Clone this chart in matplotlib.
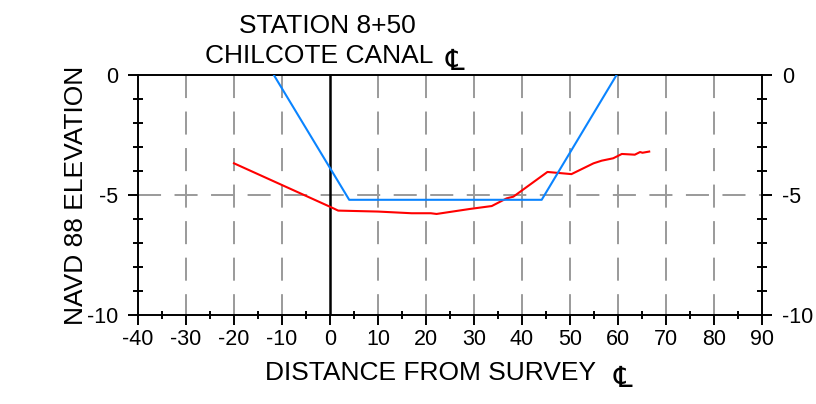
import matplotlib
matplotlib.use('Agg')
import matplotlib.pyplot as plt

plt.rcParams['font.family'] = ['Liberation Sans', 'DejaVu Sans']
plt.rcParams['lines.scale_dashes'] = False

W, H, DPI = 816, 404, 100

# ---- data ----
x_ticks = [-40, -30, -20, -10, 0, 10, 20, 30, 40, 50, 60, 70, 80, 90]
x_minor = [-35, -25, -15, -5, 5, 15, 25, 35, 45, 55, 65, 75, 85]
y_ticks = [0, -5, -10]
y_minor = [-1, -2, -3, -4, -6, -7, -8, -9]
grid_x = [-30, -20, -10, 10, 20, 30, 40, 50, 60, 70, 80]
grid_y = [-5]

design_x = [-11.7, 4.0, 44.1, 59.7]
design_y = [0.0, -5.2, -5.2, 0.0]

ground_x = [-20.0, 0.0, 1.7, 10.0, 17.0, 21.0, 22.2, 29.2, 33.7, 36.8, 38.2,
            45.3, 50.3, 54.9, 56.6, 59.0, 60.8, 63.5, 64.6, 65.1, 66.5]
ground_y = [-3.68, -5.49, -5.65, -5.69, -5.76, -5.76, -5.79, -5.58, -5.46, -5.14, -5.07,
            -4.04, -4.13, -3.68, -3.57, -3.47, -3.29, -3.32, -3.21, -3.24, -3.19]

title_1 = "STATION 8+50"
title_2 = "CHILCOTE CANAL"
x_label = "DISTANCE FROM SURVEY"
y_label = "NAVD 88 ELEVATION"
cl_sign = "\u2104"

fig = plt.figure(figsize=(W / DPI, H / DPI), dpi=DPI)
ax = fig.add_axes([138 / W, 89 / H, 624 / W, 240 / H])
ax.set_xlim(-40, 90)
ax.set_ylim(-10, 0)

grey = '#9a9a9a'
for gx in grid_x:
    ax.plot([gx, gx], [0, -10], color=grey, lw=1.4, ls=(0, (16.6, 9.7)), zorder=1)
for gy in grid_y:
    ax.plot([-40, 90], [gy, gy], color=grey, lw=1.4, ls=(0, (16.6, 9.7)), zorder=1)

ax.plot([0, 0], [0, -10], color='black', lw=1.8, zorder=2)
ax.plot(ground_x, ground_y, color='#ff0000', lw=1.5, zorder=3)
ax.plot(design_x, design_y, color='#0a84ff', lw=1.5, zorder=4)

for s in ax.spines.values():
    s.set_linewidth(1.4)
    s.set_color('black')

ax.set_xticks(x_ticks)
ax.set_xticklabels([str(v) for v in x_ticks])
ax.set_xticks(x_minor, minor=True)
ax.set_yticks(y_ticks)
ax.set_yticklabels([str(v) for v in y_ticks])
ax.set_yticks(y_minor, minor=True)

ax.tick_params(axis='x', which='major', direction='out', length=7.2, width=1.4,
               labelsize=15.5, pad=3, bottom=True, top=False)
ax.tick_params(axis='x', which='minor', direction='inout', length=6.2, width=1.4,
               bottom=True, top=False)
ax.tick_params(axis='y', which='major', direction='out', length=7.2, width=1.4,
               labelsize=15.5, pad=7, left=True, right=True, labelleft=True, labelright=True)
ax.tick_params(axis='y', which='minor', direction='inout', length=7.9, width=1.4,
               left=True, right=True)


def px(x, y):
    return x / W, 1 - y / H


fig.text(*px(239, 33), title_1, fontsize=19, ha='left', va='baseline')
fig.text(*px(205, 63), title_2, fontsize=19, ha='left', va='baseline')
fig.text(*px(446, 70), cl_sign, fontsize=21, ha='left', va='baseline',
         family=['DejaVu Sans'])

fig.text(*px(265, 380), x_label, fontsize=19, ha='left', va='baseline')
fig.text(*px(614, 387), cl_sign, fontsize=21, ha='left', va='baseline',
         family=['DejaVu Sans'])

fig.text(*px(83, 195), y_label, fontsize=19, rotation=90, rotation_mode='anchor',
         ha='center', va='baseline')

fig.savefig('out.png', dpi=DPI)
